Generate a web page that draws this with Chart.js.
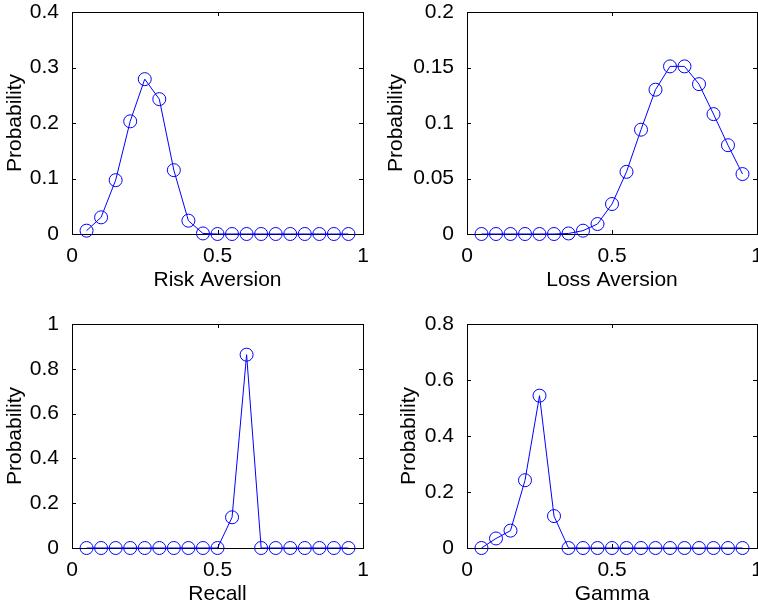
<!DOCTYPE html>
<html>
<head>
<meta charset="utf-8">
<title>Probability panels</title>
<script src="https://cdn.jsdelivr.net/npm/chart.js@4.4.1/dist/chart.umd.min.js"></script>
<style>
  body { margin: 0; background: #fff; }
  #wrap { position: relative; width: 758px; height: 605px; overflow: hidden; }
  canvas { position: absolute; }
</style>
</head>
<body>
<div id="wrap">
  <canvas id="riskChart" width="379" height="300" style="left:0;top:0"></canvas>
  <canvas id="lossChart" width="379" height="300" style="left:379px;top:0"></canvas>
  <canvas id="recallChart" width="379" height="305" style="left:0;top:300px"></canvas>
  <canvas id="gammaChart" width="379" height="305" style="left:379px;top:300px"></canvas>
</div>
<script>
'use strict';

// parameter grid (same for every panel)
let paramValues = [0.05, 0.1, 0.15, 0.2, 0.25, 0.3, 0.35, 0.4, 0.45, 0.5,
  0.55, 0.6, 0.65, 0.7, 0.75, 0.8, 0.85, 0.9, 0.95];

let riskAversionProb = [0.006, 0.030, 0.097, 0.203, 0.279, 0.243, 0.115, 0.024, 0.001, 0,
  0, 0, 0, 0, 0, 0, 0, 0, 0];
let lossAversionProb = [0, 0, 0, 0, 0, 0, 0.0005, 0.003, 0.009, 0.027,
  0.056, 0.094, 0.130, 0.151, 0.151, 0.135, 0.108, 0.080, 0.054];
let recallProb = [0, 0, 0, 0, 0, 0, 0, 0, 0, 0,
  0.137, 0.863, 0, 0, 0, 0, 0, 0, 0];
let gammaProb = [0, 0.034, 0.062, 0.242, 0.544, 0.114, 0, 0, 0, 0,
  0, 0, 0, 0, 0, 0, 0, 0, 0];

let xTitles = ['Risk Aversion', 'Loss Aversion', 'Recall', 'Gamma'];
let yTitle = 'Probability';
let yMaxes = [0.4, 0.2, 1, 0.8];
let ySteps = [0.1, 0.05, 0.2, 0.2];

let fontFamily = '"Liberation Sans", Arial, Helvetica, sans-serif';
let fontSize = 21;
let blue = '#0000ff';

// box around the axes with matlab style inward ticks
let framePlugin = {
  id: 'frame',
  beforeDatasetsDraw(chart) {
    let ctx = chart.ctx;
    let a = chart.chartArea;
    let tickLen = 4;
    ctx.save();
    ctx.strokeStyle = '#000';
    ctx.lineWidth = 1;
    ctx.strokeRect(Math.round(a.left) + 0.5, Math.round(a.top) + 0.5,
      Math.round(a.right - a.left), Math.round(a.bottom - a.top));
    ctx.beginPath();
    chart.scales.x.ticks.forEach(function(t) {
      let px = Math.round(chart.scales.x.getPixelForValue(t.value)) + 0.5;
      ctx.moveTo(px, a.bottom);
      ctx.lineTo(px, a.bottom - tickLen);
      ctx.moveTo(px, a.top);
      ctx.lineTo(px, a.top + tickLen);
    });
    chart.scales.y.ticks.forEach(function(t) {
      let py = Math.round(chart.scales.y.getPixelForValue(t.value)) + 0.5;
      ctx.moveTo(a.left, py);
      ctx.lineTo(a.left + tickLen, py);
      ctx.moveTo(a.right, py);
      ctx.lineTo(a.right - tickLen, py);
    });
    ctx.stroke();
    ctx.restore();
  }
};

// 0.10 -> 0.1, 1.0 -> 1
function plainNumber(value) {
  return String(parseFloat(value.toFixed(4)));
}

function makePanel(canvasId, probs, idx, box) {
  let points = [];
  for (let i = 0; i < paramValues.length; i++) {
    points.push({ x: paramValues[i], y: probs[i] });
  }

  return new Chart(document.getElementById(canvasId), {
    type: 'line',
    data: {
      datasets: [{
        data: points,
        borderColor: blue,
        borderWidth: 1,
        pointRadius: 6.5,
        pointHoverRadius: 6.5,
        pointBorderColor: blue,
        pointBorderWidth: 1,
        pointBackgroundColor: 'rgba(0,0,0,0)',
        tension: 0,
        clip: false
      }]
    },
    options: {
      responsive: false,
      animation: false,
      events: [],
      layout: {
        autoPadding: false,
        padding: { top: box.top, right: box.right, left: 0, bottom: 0 }
      },
      plugins: { legend: { display: false }, tooltip: { enabled: false } },
      scales: {
        x: {
          type: 'linear',
          min: 0,
          max: 1,
          grid: { display: false },
          border: { display: false },
          ticks: { stepSize: 0.5, color: '#000', padding: 2, maxRotation: 0,
            callback: plainNumber,
            font: { family: fontFamily, size: fontSize } },
          title: { display: true, text: xTitles[idx], color: '#000',
            padding: { top: 0, bottom: box.xTitlePad },
            font: { family: fontFamily, size: fontSize } },
          afterFit: function(scale) {
            scale.height = box.xHeight;
            scale.paddingLeft = 0;
            scale.paddingRight = 0;
          }
        },
        y: {
          min: 0,
          max: yMaxes[idx],
          grid: { display: false },
          border: { display: false },
          ticks: { stepSize: ySteps[idx], color: '#000', padding: 5,
            callback: plainNumber,
            font: { family: fontFamily, size: fontSize } },
          title: { display: true, text: yTitle, color: '#000',
            padding: { top: box.yTitlePad, bottom: 0 },
            font: { family: fontFamily, size: fontSize } },
          afterFit: function(scale) {
            scale.width = box.yWidth;
            scale.paddingTop = 0;
            scale.paddingBottom = 0;
          }
        }
      }
    },
    plugins: [framePlugin]
  });
}

makePanel('riskChart', riskAversionProb, 0,
  { top: 12, right: 16, yWidth: 72, xHeight: 66, xTitlePad: 7, yTitlePad: 3 });
makePanel('lossChart', lossAversionProb, 1,
  { top: 12, right: 1, yWidth: 88, xHeight: 66, xTitlePad: 7, yTitlePad: 5 });
makePanel('recallChart', recallProb, 2,
  { top: 24, right: 16, yWidth: 72, xHeight: 57, xTitlePad: -2, yTitlePad: 3 });
makePanel('gammaChart', gammaProb, 3,
  { top: 24, right: 1, yWidth: 88, xHeight: 57, xTitlePad: -2, yTitlePad: 18 });
</script>
</body>
</html>
